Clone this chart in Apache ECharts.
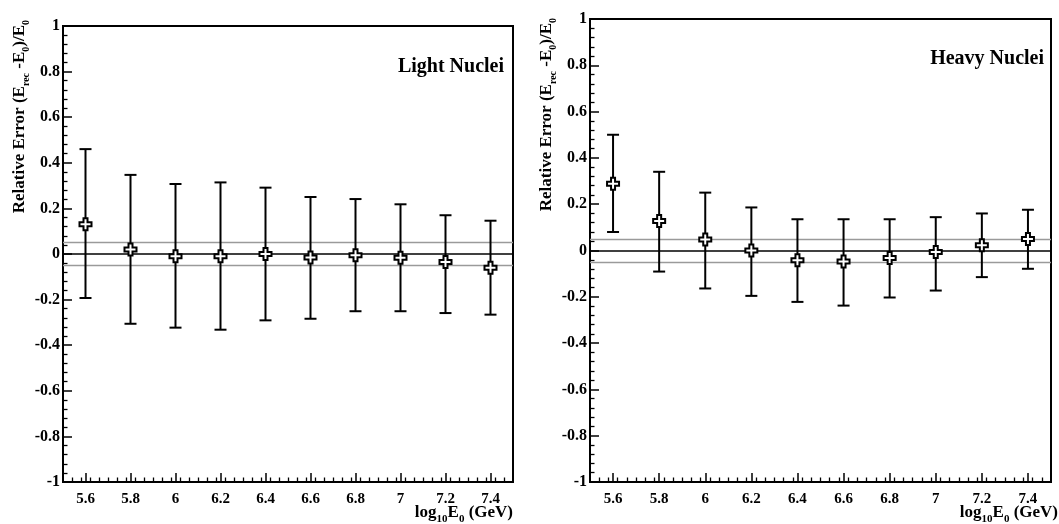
<!DOCTYPE html>
<html>
<head>
<meta charset="utf-8">
<script src="https://cdn.jsdelivr.net/npm/echarts@6/dist/echarts.min.js"></script>
<style>
html,body{margin:0;padding:0;background:#fff;}
#chart{width:1059px;height:524px;}
</style>
</head>
<body>
<div id="chart"></div>
<script>
// ---- data ----
const energies = [5.6, 5.8, 6.0, 6.2, 6.4, 6.6, 6.8, 7.0, 7.2, 7.4];
const xTickLabels = [5.6, 5.8, 6, 6.2, 6.4, 6.6, 6.8, 7, 7.2, 7.4];

const lightMean = [0.13, 0.02, -0.01, -0.01, 0.0, -0.015, -0.005, -0.016, -0.035, -0.06];
const lightHigh = [0.46, 0.347, 0.307, 0.314, 0.291, 0.25, 0.241, 0.218, 0.17, 0.146];
const lightLow  = [-0.193, -0.306, -0.323, -0.332, -0.291, -0.284, -0.251, -0.251, -0.259, -0.266];

const heavyMean = [0.288, 0.127, 0.048, 0.0, -0.042, -0.048, -0.032, -0.006, 0.023, 0.05];
const heavyHigh = [0.5, 0.34, 0.25, 0.186, 0.135, 0.135, 0.135, 0.144, 0.16, 0.176];
const heavyLow  = [0.08, -0.091, -0.164, -0.196, -0.222, -0.238, -0.203, -0.173, -0.115, -0.079];

const refLines = [0.05, 0, -0.05];
const panelTitles = ['Light Nuclei', 'Heavy Nuclei'];

// ---- helpers ----
const FONT = 'Liberation Serif, Times New Roman, serif';
const minorX = [];
for (let i = 1; i < 50; i++) {
  const v = +(5.5 + i * 0.04).toFixed(2);
  if (Math.abs(((v - 5.6) / 0.2) - Math.round((v - 5.6) / 0.2)) > 1e-6) minorX.push(v);
}

const grids = [
  {left: 63, top: 26, width: 450, height: 456},
  {left: 590, top: 19, width: 461, height: 463}
];

function xAxes(gi) {
  return [
    {
      type: 'value', gridIndex: gi, min: 5.5, max: 7.5, position: 'bottom',
      axisLine: {show: true, onZero: false, lineStyle: {color: '#000', width: 2}},
      axisTick: {show: true, inside: true, length: 9, customValues: xTickLabels, lineStyle: {color: '#000', width: 1.5}},
      axisLabel: {show: true, customValues: xTickLabels, margin: 10, color: '#000',
        fontFamily: FONT, fontWeight: 'bold', fontSize: 15},
      splitLine: {show: false}
    },
    {
      type: 'value', gridIndex: gi, min: 5.5, max: 7.5, position: 'bottom',
      axisLine: {show: false, onZero: false},
      axisTick: {show: true, inside: true, length: 4.5, customValues: minorX, lineStyle: {color: '#000', width: 1.3}},
      axisLabel: {show: false},
      splitLine: {show: false}
    }
  ];
}

function yAxis(gi) {
  return {
    type: 'value', gridIndex: gi, min: -1, max: 1, interval: 0.2,
    axisLine: {show: true, onZero: false, lineStyle: {color: '#000', width: 2}},
    axisTick: {show: true, inside: true, length: 9, lineStyle: {color: '#000', width: 1.5}},
    minorTick: {show: true, splitNumber: 5, length: 4.5, lineStyle: {color: '#000', width: 1.3}},
    axisLabel: {margin: 3, color: '#000', fontFamily: FONT, fontWeight: 'bold', fontSize: 16,
      formatter: v => String(+v.toFixed(2))},
    splitLine: {show: false},
    minorSplitLine: {show: false}
  };
}

function errData(low, high) {
  return energies.map((x, i) => [x, low[i], high[i]]);
}
function ptData(mean) {
  return energies.map((x, i) => [x, mean[i]]);
}

function errSeries(gi, low, high) {
  return {
    type: 'custom',
    xAxisIndex: gi * 2, yAxisIndex: gi,
    data: errData(low, high),
    encode: {x: 0, y: [1, 2]},
    z: 3,
    renderItem: function (params, api) {
      const x = api.value(0);
      const top = api.coord([x, api.value(2)]);
      const bot = api.coord([x, api.value(1)]);
      const cap = 6;
      const st = {stroke: '#000', lineWidth: 2};
      return {
        type: 'group',
        children: [
          {type: 'line', shape: {x1: top[0], y1: top[1], x2: bot[0], y2: bot[1]}, style: st},
          {type: 'line', shape: {x1: top[0] - cap, y1: top[1], x2: top[0] + cap, y2: top[1]}, style: st},
          {type: 'line', shape: {x1: bot[0] - cap, y1: bot[1], x2: bot[0] + cap, y2: bot[1]}, style: st}
        ]
      };
    }
  };
}

const crossPath = 'path://M4,0 L8,0 L8,4 L12,4 L12,8 L8,8 L8,12 L4,12 L4,8 L0,8 L0,4 L4,4 Z';

function ptSeries(gi, mean) {
  return {
    type: 'scatter',
    xAxisIndex: gi * 2, yAxisIndex: gi,
    data: ptData(mean),
    symbol: crossPath,
    symbolSize: 12,
    z: 5,
    itemStyle: {color: '#fff', borderColor: '#000', borderWidth: 2, opacity: 1},
    markLine: {
      silent: true,
      symbol: ['none', 'none'],
      label: {show: false},
      z: 1,
      data: refLines.map(v => ({
        yAxis: v,
        lineStyle: {color: v === 0 ? '#000' : '#9a9a9a', width: v === 0 ? 1.6 : 1.4, type: 'solid'}
      }))
    }
  };
}

const subRich = {
  sub: {fontFamily: FONT, fontWeight: 'bold', fontSize: 10, verticalAlign: 'bottom', lineHeight: 22},
  base: {fontFamily: FONT, fontWeight: 'bold', fontSize: 17, lineHeight: 22}
};
const subRichX = {
  sub: {fontFamily: FONT, fontWeight: 'bold', fontSize: 11, verticalAlign: 'bottom', lineHeight: 24},
  base: {fontFamily: FONT, fontWeight: 'bold', fontSize: 17, lineHeight: 24}
};
const yTitleText = '{base|Relative Error (E}{sub|rec}{base| -E}{sub|0}{base|)/E}{sub|0}';
const xTitleText = '{base|log}{sub|10}{base|E}{sub|0}{base| (GeV)}';

function yTitle(x, yTop) {
  return {
    type: 'text', x: x, y: yTop, rotation: Math.PI / 2, silent: true,
    style: {text: yTitleText, rich: subRich, align: 'right', verticalAlign: 'middle', fill: '#000'}
  };
}
function xTitle(xRight, y) {
  return {
    type: 'text', x: xRight, y: y, silent: true,
    style: {text: xTitleText, rich: subRichX, align: 'right', verticalAlign: 'middle', fill: '#000'}
  };
}

const option = {
  animation: false,
  backgroundColor: '#fff',
  title: [
    {text: panelTitles[0], right: 1059 - 509, top: 52,
      textStyle: {fontFamily: FONT, fontWeight: 'bold', fontSize: 20, color: '#000'}},
    {text: panelTitles[1], right: 1059 - 1049, top: 44,
      textStyle: {fontFamily: FONT, fontWeight: 'bold', fontSize: 20, color: '#000'}}
  ],
  grid: grids.map(g => Object.assign({show: true, borderColor: '#000', borderWidth: 2, backgroundColor: 'transparent'}, g)),
  xAxis: xAxes(0).concat(xAxes(1)),
  yAxis: [yAxis(0), yAxis(1)],
  series: [
    errSeries(0, lightLow, lightHigh),
    ptSeries(0, lightMean),
    errSeries(1, heavyLow, heavyHigh),
    ptSeries(1, heavyMean)
  ],
  graphic: [
    yTitle(20, 20),
    yTitle(547, 18),
    xTitle(513, 513),
    xTitle(1058, 513)
  ]
};

const chart = echarts.init(document.getElementById('chart'), null, {renderer: 'canvas'});
chart.setOption(option);
</script>
</body>
</html>
